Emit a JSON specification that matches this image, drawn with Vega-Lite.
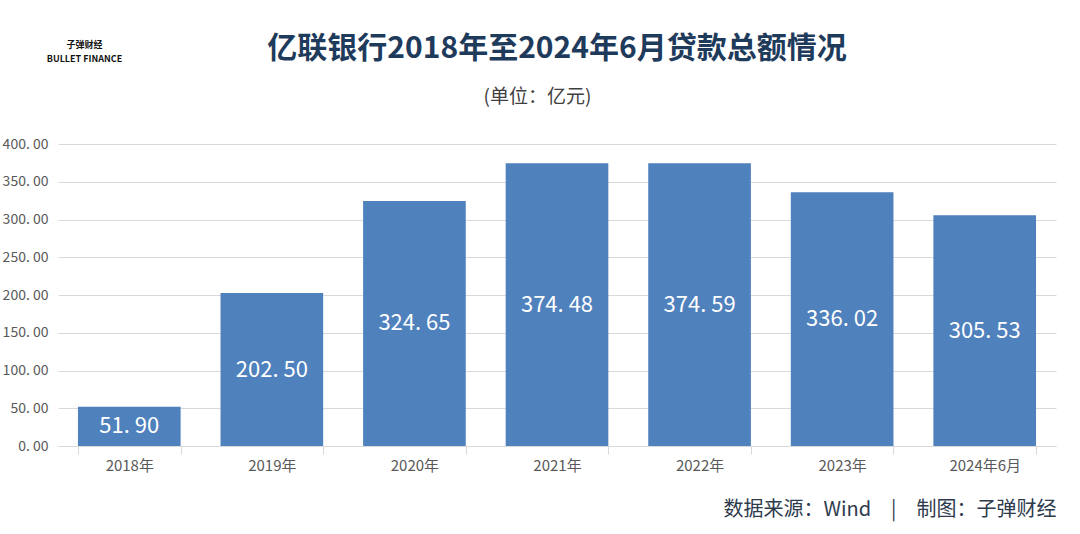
{
  "$schema": "https://vega.github.io/schema/vega-lite/v6.json",
  "width": 998,
  "height": 302,
  "autosize": {"type": "none"},
  "padding": {"left": 58, "top": 144, "right": 24, "bottom": 88},
  "background": "white",
  "config": {"font": "Noto Sans CJK SC", "view": {"stroke": null}},
  "title": {
    "text": "亿联银行2018年至2024年6月贷款总额情况",
    "fontSize": 30,
    "fontWeight": "bold",
    "color": "#1f3b5c",
    "anchor": "middle",
    "frame": "group",
    "baseline": "middle",
    "offset": 0,
    "dy": 39
  },
  "data": {
    "values": [
      {"period": "2018年", "value": 51.90},
      {"period": "2019年", "value": 202.50},
      {"period": "2020年", "value": 324.65},
      {"period": "2021年", "value": 374.48},
      {"period": "2022年", "value": 374.59},
      {"period": "2023年", "value": 336.02},
      {"period": "2024年6月", "value": 305.53}
    ]
  },
  "transform": [
    {"calculate": "datum.value / 2", "as": "mid"},
    {"calculate": "replace(format(datum.value, '.2f'), '.', '. ')", "as": "label"}
  ],
  "encoding": {
    "x": {
      "field": "period",
      "type": "nominal",
      "sort": null,
      "scale": {"paddingInner": 0.28, "paddingOuter": 0.14},
      "axis": {
        "labelAngle": 0,
        "labelFontSize": 15,
        "labelColor": "#595959",
        "labelPadding": 4,
        "tickBand": "extent",
        "tickColor": "#d9d9d9",
        "tickSize": 8,
        "domainColor": "#d9d9d9",
        "title": "数据来源：Wind\u2003|\u2003制图：子弹财经",
        "titleX": 998,
        "titleY": 63,
        "titleAlign": "right",
        "titleBaseline": "middle",
        "titleFontSize": 20,
        "titleFontWeight": "normal",
        "titleColor": "#2e3b4e"
      }
    }
  },
  "layer": [
    {
      "mark": {"type": "bar", "color": "#4f81bd"},
      "encoding": {
        "y": {
          "field": "value",
          "type": "quantitative",
          "scale": {"domain": [0, 400]},
          "axis": {
            "values": [0, 50, 100, 150, 200, 250, 300, 350, 400],
            "labelExpr": "replace(format(datum.value, '.2f'), '.', '. ')",
            "grid": true,
            "gridColor": "#d9d9d9",
            "domain": false,
            "ticks": false,
            "labelFontSize": 14,
            "labelColor": "#595959",
            "labelPadding": 10,
            "title": "(单位：亿元)",
            "titleAngle": 0,
            "titleX": 479,
            "titleY": -48,
            "titleAlign": "center",
            "titleBaseline": "middle",
            "titleFontSize": 19,
            "titleFontWeight": "normal",
            "titleColor": "#404040"
          }
        }
      }
    },
    {
      "mark": {"type": "text", "color": "white", "fontSize": 22},
      "encoding": {
        "y": {
          "field": "mid",
          "type": "quantitative",
          "scale": {"domain": [0, 400]},
          "axis": {
            "orient": "right",
            "labels": false,
            "ticks": false,
            "domain": false,
            "grid": false,
            "title": ["子弹财经", "BULLET FINANCE"],
            "titleAngle": 0,
            "titleX": -972,
            "titleY": -104,
            "titleAlign": "center",
            "titleBaseline": "top",
            "titleFontSize": 9,
            "titleLineHeight": 14,
            "titleFontWeight": "bold",
            "titleColor": "#111111"
          }
        },
        "text": {"field": "label"}
      }
    }
  ],
  "resolve": {"axis": {"y": "independent"}}
}
